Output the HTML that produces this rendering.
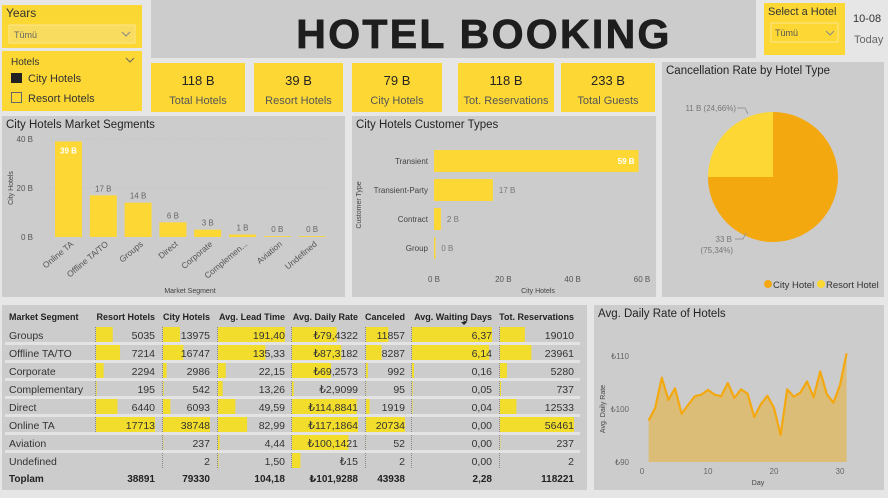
<!DOCTYPE html>
<html><head><meta charset="utf-8">
<style>
body{margin:0;background:#e6e6e6;width:888px;height:493px;overflow:hidden;font-family:"Liberation Sans","DejaVu Sans",sans-serif;}
svg text{font-family:"Liberation Sans","DejaVu Sans",sans-serif;}
</style></head>
<body>
<svg id="s" width="888" height="493" viewBox="0 0 888 493" xmlns="http://www.w3.org/2000/svg">
<rect width="888" height="493" fill="#e6e6e6"/>
<!-- Years slicer -->
<g>
<rect x="2" y="5" width="140" height="43" fill="#fdd835"/>
<rect x="2" y="5" width="140" height="17" fill="#fbd733"/>
<text x="6" y="17" font-size="12" fill="#333">Years</text>
<rect x="9" y="25" width="126" height="18" fill="#f8dc60" stroke="#fbe68a"/>
<text x="14" y="38" font-size="9" fill="#666">Tümü</text>
<path d="M122 32l4 4 4-4" stroke="#888" fill="none"/>
</g>
<!-- Hotels slicer -->
<g>
<rect x="2" y="51" width="140" height="60" fill="#fdd835"/>
<text x="11" y="65" font-size="10" fill="#333">Hotels</text>
<path d="M126 58l4 4 4-4" stroke="#666" fill="none"/>
<rect x="11" y="73" width="11" height="10" fill="#222"/>
<text x="28" y="82" font-size="11" fill="#333">City Hotels</text>
<rect x="11.5" y="92.5" width="10" height="10" fill="none" stroke="#666"/>
<text x="28" y="102" font-size="11" fill="#333">Resort Hotels</text>
</g>
<!-- Title -->
<rect x="151" y="0" width="605" height="58" fill="#cccccc"/>
<text x="484" y="48" font-size="41" font-weight="bold" letter-spacing="2.3" text-anchor="middle" fill="#1e1e1e" stroke="#1e1e1e" stroke-width="0.8">HOTEL BOOKING</text>
<!-- Select hotel -->
<g>
<rect x="764" y="3" width="81" height="52" fill="#fdd835"/>
<text x="768" y="15" font-size="11" fill="#333">Select a Hotel</text>
<rect x="771" y="23" width="67" height="19" fill="none" stroke="#fbe68a"/>
<text x="775" y="36" font-size="9" fill="#555">Tümü</text>
<path d="M826 31l4 4 4-4" stroke="#888" fill="none"/>
</g>
<text x="853" y="22" font-size="11" fill="#333">10-08</text>
<text x="854" y="43" font-size="11" fill="#666">Today</text>
<g id="kpis"></g>
<!-- Panels -->
<rect x="2" y="116" width="343" height="181" fill="#cccccc"/>
<rect x="352" y="116" width="304" height="181" fill="#cccccc"/>
<rect x="662" y="62" width="222" height="235" fill="#cccccc"/>
<rect x="2" y="305" width="585" height="185" fill="#cccccc"/>
<rect x="594" y="305" width="290" height="185" fill="#cccccc"/>
<text x="6" y="128" font-size="11.5" fill="#252423">City Hotels Market Segments</text>
<text x="356" y="128" font-size="11.5" fill="#252423">City Hotels Customer Types</text>
<text x="666" y="74" font-size="11.5" fill="#252423">Cancellation Rate by Hotel Type</text>
<text x="598" y="317" font-size="11.5" fill="#252423">Avg. Daily Rate of Hotels</text>
<g id="g1"></g><g id="g2"></g><g id="g3"></g><g id="g4"></g><g id="g5"></g>
</svg>
<script>
const kpiValues=["118 B","39 B","79 B","118 B","233 B"];
const kpiLabels=["Total Hotels","Resort Hotels","City Hotels","Tot. Reservations","Total Guests"];
const segCats=["Online TA","Offline TA/TO","Groups","Direct","Corporate","Complemen...","Aviation","Undefined"];
const segVals=[39,17,14,6,3,1,0.15,0.05];
const segLabels=["39 B","17 B","14 B","6 B","3 B","1 B","0 B","0 B"];
const segTicks=[0,20,40];
const custCats=["Transient","Transient-Party","Contract","Group"];
const custVals=[59,17,2,0.4];
const custLabels=["59 B","17 B","2 B","0 B"];
const custTicks=[0,20,40,60];
const pieCats=["City Hotel","Resort Hotel"];
const pieVals=[33,11];
const pieLabels=["33 B","11 B (24,66%)"];
const days=[1,2,3,4,5,6,7,8,9,10,11,12,13,14,15,16,17,18,19,20,21,22,23,24,25,26,27,28,29,30,31];
const adr=[97.8,100.2,105.9,101.7,103.9,99.1,100.8,102.4,102.7,103.6,102.7,102.4,104.9,102.1,103.7,102.9,98.5,100.9,102.5,100.2,95.1,103.7,102.3,103.1,105.2,102.2,107.1,102.8,101.2,104.5,110.5];
const adrTicks=[90,100,110];
const dayTicks=[0,10,20,30];
const tblHeaders=["Market Segment","Resort Hotels","City Hotels","Avg. Lead Time","Avg. Daily Rate","Canceled","Avg. Waiting Days","Tot. Reservations"];
const tblRows=["Groups","Offline TA/TO","Corporate","Complementary","Direct","Online TA","Aviation","Undefined"];
const resortCol=[5035,7214,2294,195,6440,17713,null,null];
const cityCol=[13975,16747,2986,542,6093,38748,237,2];
const leadCol=[191.40,135.33,22.15,13.26,49.59,82.99,4.44,1.50];
const adrCol=[79.4322,87.3182,69.2573,2.9099,114.8841,117.1864,100.1421,15];
const cancCol=[11857,8287,992,95,1919,20734,52,2];
const waitCol=[6.37,6.14,0.16,0.05,0.04,0,0,0];
const totCol=[19010,23961,5280,737,12533,56461,237,2];
const totals=["Toplam","38891","79330","104,18","₺101,9288","43938","2,28","118221"];

const NS="http://www.w3.org/2000/svg";
function mk(p,tag,a,txt){const e=document.createElementNS(NS,tag);for(const k in a)e.setAttribute(k,a[k]);if(txt!==undefined)e.textContent=txt;p.appendChild(e);return e;}
const Y="#fdd835";

// KPIs
const kx=[151,254,352,458,561],kw=[94,89,90,96,94];
const kg=document.getElementById('kpis');
kpiValues.forEach((v,i)=>{
 const r=mk(kg,'rect',{x:kx[i],y:63,width:kw[i],height:49,fill:Y});
 
 
 const c=kx[i]+kw[i]/2;
 const t=mk(kg,'text',{x:c,y:85,'font-size':13,'text-anchor':'middle',fill:'#252423'},v);
 
 
 const l=mk(kg,'text',{x:c,y:104,'font-size':11,'text-anchor':'middle',fill:'#555'},kpiLabels[i]);
 
 
});

// Chart 1 vertical bars
const g1=document.getElementById('g1');
const y1=v=>237-v*(98/40), x1=i=>55+i*34.8;
segTicks.forEach(t=>{
 const e=mk(g1,'text',{x:33,y:y1(t)+3,'font-size':8,'text-anchor':'end',fill:'#555'},t+" B");
 
 
 if(t>0)mk(g1,'line',{x1:50,x2:330,y1:y1(t),y2:y1(t),stroke:'#c2c2c2','stroke-dasharray':'1 2'});
});
segVals.forEach((v,i)=>{
 const h=Math.max(237-y1(v),0.8);
 const b=mk(g1,'rect',{x:x1(i),y:237-h,width:27,height:h,fill:Y});
 
 
 const inside=i===0;
 const lb=mk(g1,'text',{x:x1(i)+13.5,y:inside?y1(v)+12:237-h-4,'font-size':8,'text-anchor':'middle',fill:inside?'#fff':'#666','font-weight':inside?'bold':'normal'},segLabels[i]);
 
 
 const cl=mk(g1,'text',{x:x1(i)+19,y:245,'font-size':8.5,'text-anchor':'end',fill:'#555',transform:`rotate(-40 ${x1(i)+19} 245)`},segCats[i]);
 
 
});
let e=mk(g1,'text',{x:190,y:293,'font-size':7,'text-anchor':'middle',fill:'#444'},"Market Segment");

e=mk(g1,'text',{x:13,y:188,'font-size':7,'text-anchor':'middle',fill:'#444',transform:'rotate(-90 13 188)'},"City Hotels");


// Chart 2 horizontal bars
const g2=document.getElementById('g2');
const x2=v=>434+v*(208/60), yc=i=>161+i*29;
custTicks.forEach(t=>{
 const e=mk(g2,'text',{x:x2(t),y:282,'font-size':8,'text-anchor':'middle',fill:'#555'},t+" B");
 
 
});
custVals.forEach((v,i)=>{
 const w=Math.max(x2(v)-434,1);
 const b=mk(g2,'rect',{x:434,y:yc(i)-11,width:w,height:22,fill:Y});
 
 
 const inside=i===0;
 const lb=mk(g2,'text',{x:inside?434+w-4:434+w+6,y:yc(i)+3,'font-size':8,'text-anchor':inside?'end':'start',fill:inside?'#fff':'#777','font-weight':inside?'bold':'normal'},custLabels[i]);
 
 
 const cl=mk(g2,'text',{x:428,y:yc(i)+3,'font-size':8,'text-anchor':'end',fill:'#444'},custCats[i]);
 
 
});
e=mk(g2,'text',{x:538,y:293,'font-size':7,'text-anchor':'middle',fill:'#444'},"City Hotels");

e=mk(g2,'text',{x:361,y:205,'font-size':7,'text-anchor':'middle',fill:'#444',transform:'rotate(-90 361 205)'},"Customer Type");


// Pie
const g3=document.getElementById('g3');
const cx=773,cy=177,R=65,tot=pieVals.reduce((a,b)=>a+b,0),pcol=["#f4a80f",Y];
let ang=0;
pieVals.forEach((v,i)=>{
 const a0=ang,a1=ang+v/tot*2*Math.PI;ang=a1;
 const p=(a)=>[cx+R*Math.sin(a),cy-R*Math.cos(a)];
 const [sx,sy]=p(a0),[ex,ey]=p(a1);
 const s=mk(g3,'path',{d:`M${cx},${cy}L${sx},${sy}A${R},${R} 0 ${a1-a0>Math.PI?1:0} 1 ${ex},${ey}Z`,fill:pcol[i]});
 
 
});
e=mk(g3,'text',{x:736,y:111,'font-size':8,'text-anchor':'end',fill:'#777'},pieLabels[1]);

mk(g3,'path',{d:'M737,108H745L748,114',stroke:'#999',fill:'none'});
e=mk(g3,'text',{x:732,y:242,'font-size':8,'text-anchor':'end',fill:'#777'},pieLabels[0]);

e=mk(g3,'text',{x:733,y:253,'font-size':8,'text-anchor':'end',fill:'#777'},"(75,34%)");

mk(g3,'path',{d:'M735,239H743L746,233',stroke:'#999',fill:'none'});
pieCats.forEach((c,i)=>{
 const lx=[764,817][i];
 mk(g3,'circle',{cx:lx+4,cy:284,r:4,fill:pcol[i]});
 const t=mk(g3,'text',{x:lx+9,y:288,'font-size':9.5,fill:'#333'},c);
 
 
});

// Area chart
const g4=document.getElementById('g4');
const xa=d=>642+d*6.6, ya=v=>462-(v-90)*5.3;
adrTicks.forEach(t=>{
 const e=mk(g4,'text',{x:629,y:ya(t)+3,'font-size':8,'text-anchor':'end',fill:'#666'},"₺"+t);
 
});
dayTicks.forEach(t=>{
 const e=mk(g4,'text',{x:xa(t),y:474,'font-size':8,'text-anchor':'middle',fill:'#666'},t);
 
});
let pts=days.map((d,i)=>xa(d)+","+ya(adr[i])).join(" ");
e=mk(g4,'polygon',{points:xa(days[0])+","+ya(90)+" "+pts+" "+xa(days[days.length-1])+","+ya(90),fill:'#dcbd78'});

e=mk(g4,'polyline',{points:pts,fill:'none',stroke:'#f4a80f','stroke-width':2.2,'stroke-linejoin':'round'});

e=mk(g4,'text',{x:758,y:485,'font-size':7,'text-anchor':'middle',fill:'#444'},"Day");

e=mk(g4,'text',{x:605,y:409,'font-size':7,'text-anchor':'middle',fill:'#444',transform:'rotate(-90 605 409)'},"Avg. Daily Rate");


// Table
const g5=document.getElementById('g5');
const colL=[9,96,163,218,292,366,412,500], colR=[0,155,210,285,358,405,492,574];
const cols=[resortCol,cityCol,leadCol,adrCol,cancCol,waitCol,totCol];
const fmt=[v=>String(v),v=>String(v),v=>v.toFixed(2).replace('.',','),v=>"₺"+(v===15?"15":v.toFixed(4).replace('.',',')),v=>String(v),v=>v.toFixed(2).replace('.',','),v=>String(v)];
tblHeaders.forEach((h,c)=>{
 const t=mk(g5,'text',{x:c===0?colL[0]:colR[c],y:320,'font-size':9,'font-weight':'bold','text-anchor':c===0?'start':'end',fill:'#222'},h);
 
});
mk(g5,'path',{d:'M461 322h6l-3 3z',fill:'#222'});
tblRows.forEach((r,i)=>{
 const ry=335+i*18;
 if(i<7)mk(g5,'rect',{x:5,y:ry+7,width:575,height:3,fill:'#e3e3e3'});
 const t=mk(g5,'text',{x:9,y:ry+4,'font-size':10.5,fill:'#333'},r);
 
 cols.forEach((col,c)=>{
  const v=col[i];if(v===null)return;
  const mx=Math.max(...col.filter(x=>x!==null));
  const w=(colR[c+1]-colL[c+1])*v/mx;
  mk(g5,'rect',{x:colL[c+1],y:ry-8,width:w,height:15,fill:'#f2dc2c'});
  mk(g5,'line',{x1:colL[c+1]-0.5,x2:colL[c+1]-0.5,y1:ry-8,y2:ry+8,stroke:'#888','stroke-dasharray':'1 1'});
  const tv=mk(g5,'text',{x:colR[c+1],y:ry+4,'font-size':10.5,'text-anchor':'end',fill:'#333'},fmt[c](v));
  
 });
});
totals.forEach((v,c)=>{
 const t=mk(g5,'text',{x:c===0?9:colR[c],y:482,'font-size':10,'font-weight':'bold','text-anchor':c===0?'start':'end',fill:'#222'},v);
 
});
</script>
</body></html>
